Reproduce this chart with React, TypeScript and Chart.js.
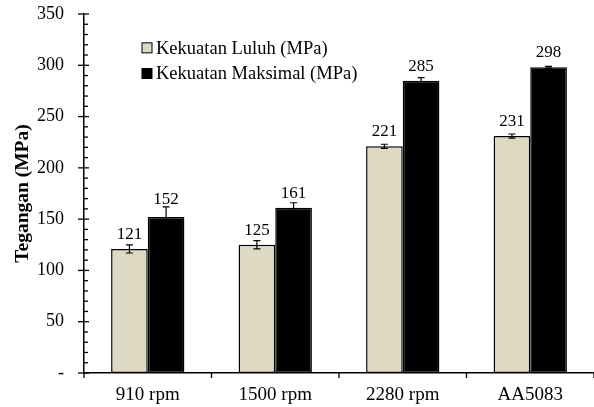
import React, { useEffect, useRef } from "react";
import { Chart, registerables } from "chart.js";

Chart.register(...registerables);

const categories = ["910 rpm", "1500 rpm", "2280 rpm", "AA5083"];
const yieldStrength = [121, 125, 221, 231];
const yieldError = [4, 4, 2, 2];
const maxStrength = [152, 161, 285, 298];
const maxError = [10, 5, 3, 1];
const seriesNames = ["Kekuatan Luluh (MPa)", "Kekuatan Maksimal (MPa)"];
const errors = [yieldError, maxError];

const FONT = "'Liberation Serif', 'Times New Roman', serif";

const overlayPlugin = {
  id: "overlay",
  afterDatasetsDraw(chart: any) {
    const ctx = chart.ctx;
    const y = chart.scales.y;
    const x = chart.scales.x;
    ctx.save();
    chart.data.datasets.forEach((ds: any, di: number) => {
      const meta = chart.getDatasetMeta(di);
      meta.data.forEach((bar: any, i: number) => {
        const v = ds.data[i];
        const e = errors[di][i];
        const top = y.getPixelForValue(v + e);
        const bot = y.getPixelForValue(v - e);
        const bx = bar.x;
        ctx.strokeStyle = "#000";
        ctx.lineWidth = 1.2;
        ctx.beginPath();
        ctx.moveTo(bx, top);
        ctx.lineTo(bx, bot);
        ctx.moveTo(bx - 3.5, top);
        ctx.lineTo(bx + 3.5, top);
        ctx.moveTo(bx - 3.5, bot);
        ctx.lineTo(bx + 3.5, bot);
        ctx.stroke();
        ctx.fillStyle = "#000";
        ctx.font = `17px ${FONT}`;
        ctx.textAlign = "center";
        ctx.textBaseline = "alphabetic";
        const ly = Math.min(bar.y - 10, top - 3);
        ctx.fillText(String(v), bx, ly);
      });
    });
    ctx.strokeStyle = "#000";
    ctx.lineWidth = 1.3;
    const ax = chart.chartArea.left;
    y.ticks.forEach((t: any) => {
      const py = y.getPixelForValue(t.value);
      const major = t.value % 50 === 0;
      ctx.beginPath();
      if (major) {
        ctx.moveTo(ax - 6, py);
        ctx.lineTo(ax + 5, py);
      } else {
        ctx.moveTo(ax, py);
        ctx.lineTo(ax + 4, py);
      }
      ctx.stroke();
    });
    const n = categories.length;
    const w = (x.right - x.left) / n;
    const bottom = chart.chartArea.bottom;
    for (let i = 0; i <= n; i++) {
      const px = x.getPixelForValue(0) - w / 2 + i * w;
      ctx.beginPath();
      ctx.moveTo(px, bottom);
      ctx.lineTo(px, bottom + 5);
      ctx.stroke();
    }
    const lx = chart.chartArea.left + 58;
    const rows = [y.getPixelForValue(317), y.getPixelForValue(292)];
    chart.data.datasets.forEach((ds: any, di: number) => {
      const cy = rows[di];
      ctx.fillStyle = ds.backgroundColor;
      ctx.fillRect(lx, cy - 5, 10, 10);
      ctx.lineWidth = 1;
      ctx.strokeStyle = "#000";
      ctx.strokeRect(lx, cy - 5, 10, 10);
      ctx.fillStyle = "#000";
      ctx.font = `18.5px ${FONT}`;
      ctx.textAlign = "left";
      ctx.textBaseline = "middle";
      ctx.fillText(ds.label, lx + 14, cy + 1);
    });
    ctx.restore();
  },
};

export default function App() {
  const ref = useRef<HTMLCanvasElement>(null);
  useEffect(() => {
    document.body.style.margin = "0";
    const chart = new Chart(ref.current!, {
      type: "bar",
      data: {
        labels: categories,
        datasets: [
          {
            label: seriesNames[0],
            data: yieldStrength,
            backgroundColor: "#ddd9c3",
            borderColor: "#000",
            borderWidth: 1.5,
            borderSkipped: false,
            categoryPercentage: 0.575,
            barPercentage: 1,
          },
          {
            label: seriesNames[1],
            data: maxStrength,
            backgroundColor: "#000000",
            borderColor: "#000",
            borderWidth: 1.5,
            borderSkipped: false,
            categoryPercentage: 0.575,
            barPercentage: 1,
          },
        ],
      },
      options: {
        responsive: false,
        animation: false,
        layout: { padding: { top: 14, right: 0, left: 0, bottom: 0 } },
        plugins: {
          legend: { display: false },
          tooltip: { enabled: false },
        },
        scales: {
          x: {
            grid: { display: false, drawTicks: false },
            border: { display: true, color: "#000", width: 1.5 },
            ticks: {
              color: "#000",
              font: { family: FONT, size: 19 },
              padding: 11,
              maxRotation: 0,
            },
            afterFit: (s: any) => {
              s.height = 34;
              s.paddingLeft = 0;
              s.paddingRight = 0;
            },
          },
          y: {
            min: 0,
            max: 350,
            grid: { display: false, drawTicks: false },
            border: { display: true, color: "#000", width: 1.5 },
            ticks: {
              stepSize: 10,
              autoSkip: false,
              color: "#000",
              font: { family: FONT, size: 18 },
              padding: 20,
              callback: (v: any) =>
                v % 50 === 0 ? (v === 0 ? "-" : String(v)) : "",
            },
            title: {
              display: true,
              text: "Tegangan (MPa)",
              color: "#000",
              font: { family: FONT, size: 19.5, weight: "bold" },
              padding: { top: 11, bottom: 0 },
            },
            afterFit: (s: any) => {
              s.width = 84;
              s.paddingTop = 0;
              s.paddingBottom = 0;
            },
          },
        },
      },
      plugins: [overlayPlugin],
    });
    return () => chart.destroy();
  }, []);
  return (
    <div style={{ width: 594, height: 407 }}>
      <canvas ref={ref} width={594} height={407} />
    </div>
  );
}
